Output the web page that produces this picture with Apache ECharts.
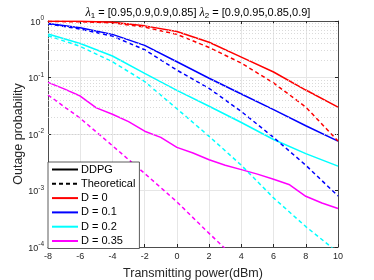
<!DOCTYPE html>
<html><head><meta charset="utf-8">
<script src="https://cdn.jsdelivr.net/npm/echarts@6/dist/echarts.min.js"></script>
<style>html,body{margin:0;padding:0;background:#fff}#c{width:374px;height:280px}</style>
</head><body><div id="c"></div>
<script>
// ---- data ----
var xTicks = [-8, -6, -4, -2, 0, 2, 4, 6, 8, 10];
var power2 = [-8, -6, -4, -2, 0, 2, 4, 6, 8, 10];
var power1 = [-8, -7, -6, -5, -4, -3, -2, -1, 0, 1, 2, 3, 4, 5, 6, 7, 8, 9, 10];
var legendNames = ['DDPG', 'Theoretical', 'D = 0', 'D = 0.1', 'D = 0.2', 'D = 0.35'];
// DDPG (solid)
var ddpgD0   = [0.99, 0.985, 0.95, 0.82, 0.65, 0.42, 0.23, 0.125, 0.06, 0.03];
var ddpgD01  = [0.90, 0.76, 0.58, 0.37, 0.19, 0.097, 0.051, 0.027, 0.014, 0.0075];
var ddpgD02  = [0.59, 0.40, 0.24, 0.118, 0.059, 0.031, 0.016, 0.0080, 0.0045, 0.0027];
var ddpgD035 = [0.082, 0.063, 0.047, 0.029, 0.0224, 0.0166, 0.0112, 0.0087, 0.0058, 0.0046,
                0.0035, 0.0028, 0.00234, 0.00195, 0.00158, 0.00126, 0.00079, 0.0006, 0.00048];
// Theoretical (dashed)
var theoD0   = [0.98, 0.97, 0.93, 0.78, 0.58, 0.34, 0.18, 0.08, 0.03, 0.0075];
var theoD01  = [0.89, 0.72, 0.54, 0.31, 0.135, 0.064, 0.025, 0.0087, 0.0028, 0.0008];
var theoD02  = [0.55, 0.355, 0.19, 0.085, 0.028, 0.0091, 0.0028, 0.00074, 0.00023, 0.00008];
var theoD035 = [0.049, 0.019, 0.0062, 0.002, 0.00063, 0.000174, 0.00005, 0.000013, 0.000003, 0.0000007];
var minorMultipliers = [2, 3, 4, 5, 6, 7, 8, 9];
var decades = [1e-4, 1e-3, 1e-2, 1e-1];

function pairs(xs, ys) { return xs.map(function (x, i) { return [x, ys[i]]; }); }

var colors = { d0: '#ff0000', d01: '#0000ff', d02: '#00ffff', d035: '#ff00ff' };
var LW = 1.5;
var dash = [4, 3];

var minorLines = [];
decades.forEach(function (d) { minorMultipliers.forEach(function (m) { minorLines.push({ yAxis: d * m }); }); });

function lineSeries(name, data, color, dashed, z) {
  return {
    name: name, type: 'line', data: data, symbol: 'none', showSymbol: false,
    xAxisIndex: 0, yAxisIndex: 0, z: z || 3, clip: true,
    lineStyle: { color: color, width: LW, type: dashed ? dash : 'solid' },
    itemStyle: { color: color }, emphasis: { disabled: true }
  };
}

var axisColor = '#262626';
var supRich = {
  b: { fontSize: 9, color: axisColor, fontFamily: 'Liberation Sans', lineHeight: 12, verticalAlign: 'bottom' },
  s: { fontSize: 6.5, color: axisColor, fontFamily: 'Liberation Sans', lineHeight: 12, verticalAlign: 'top' }
};

var option = {
  animation: false,
  backgroundColor: '#fff',
  title: {
    text: '{i|λ}{s|1} = [0.95,0.9,0.9,0.85] {i|λ}{s|2} = [0.9,0.95,0.85,0.9]',
    left: 193, top: 1, textAlign: 'center',
    textStyle: {
      fontSize: 11, fontWeight: 'normal', color: '#000', fontFamily: 'Liberation Sans',
      rich: {
        i: { fontSize: 12, fontStyle: 'italic', fontFamily: 'Liberation Serif', color: '#000' },
        s: { fontSize: 8, color: '#000', fontFamily: 'Liberation Sans', padding: [6, 0, 0, 0] }
      }
    }
  },
  grid: { left: 48, right: 36, top: 21, bottom: 33, containLabel: false, outerBoundsMode: 'none' },
  legend: {
    data: legendNames, orient: 'vertical', left: 48, top: 162,
    itemWidth: 26, itemHeight: 10, itemGap: 3.3,
    padding: [2, 4, 2, 3],
    backgroundColor: '#fff', borderColor: '#333', borderWidth: 0.8, borderRadius: 0,
    itemStyle: { color: 'rgba(0,0,0,0)', borderColor: 'rgba(0,0,0,0)', borderWidth: 0, opacity: 0 },
    textStyle: { fontSize: 11, color: '#000', fontFamily: 'Liberation Sans', padding: [0, 0, 0, -2] },
    selectedMode: false, z: 10
  },
  xAxis: [{
    type: 'value', min: -8, max: 10, interval: 2,
    name: 'Transmitting power(dBm)', nameLocation: 'middle', nameGap: 20, nameMoveOverlap: false,
    nameTextStyle: { fontSize: 12.5, color: axisColor, fontFamily: 'Liberation Sans' },
    axisLine: { show: true, onZero: false, lineStyle: { color: axisColor, width: 0.8 } },
    axisTick: { show: true, inside: true, length: 3, lineStyle: { color: axisColor } },
    axisLabel: { fontSize: 9, color: axisColor, fontFamily: 'Liberation Sans', margin: 5,
      formatter: function (v) { return xTicks.indexOf(v) >= 0 ? String(v) : ''; } },
    splitLine: { show: true, lineStyle: { color: '#e6e6e6', width: 1 } }
  }, {
    type: 'value', min: -8, max: 10, interval: 2, position: 'top',
    axisLine: { show: true, onZero: false, lineStyle: { color: axisColor, width: 0.8 } },
    axisTick: { show: true, inside: true, length: 3, lineStyle: { color: axisColor } },
    axisLabel: { show: false }, splitLine: { show: false }
  }],
  yAxis: [{
    type: 'log', logBase: 10, min: 1e-4, max: 1,
    name: 'Outage probability', nameLocation: 'middle', nameGap: 23, nameMoveOverlap: false,
    nameTextStyle: { fontSize: 12.5, color: axisColor, fontFamily: 'Liberation Sans' },
    axisLine: { show: true, onZero: false, lineStyle: { color: axisColor, width: 0.8 } },
    axisTick: { show: true, inside: true, length: 3, lineStyle: { color: axisColor } },
    axisLabel: {
      margin: 4, color: axisColor,
      formatter: function (v) { var e = Math.round(Math.log10(v)); return '{b|10}{s|' + e + '}'; },
      rich: supRich
    },
    splitLine: { show: true, lineStyle: { color: '#e6e6e6', width: 1 } },
    minorTick: { show: false }
  }, {
    type: 'log', logBase: 10, min: 1e-4, max: 1, position: 'right',
    axisLine: { show: true, onZero: false, lineStyle: { color: axisColor, width: 0.8 } },
    axisTick: { show: true, inside: true, length: 3, lineStyle: { color: axisColor } },
    axisLabel: { show: false }, splitLine: { show: false }
  }],
  series: [
    {
      name: 'grid-minor', type: 'line', data: [], xAxisIndex: 0, yAxisIndex: 0, silent: true, z: 1,
      markLine: { silent: true, symbol: 'none', label: { show: false }, animation: false,
        lineStyle: { color: '#d0d0d0', type: [1, 2], width: 0.8 }, data: minorLines }
    },
    lineSeries('DDPG', [], '#000', false),
    lineSeries('Theoretical', [], '#000', true),
    lineSeries('D = 0', pairs(power2, ddpgD0), colors.d0, false),
    lineSeries('D = 0.1', pairs(power2, ddpgD01), colors.d01, false),
    lineSeries('D = 0.2', pairs(power2, ddpgD02), colors.d02, false),
    lineSeries('D = 0.35', pairs(power1, ddpgD035), colors.d035, false),
    lineSeries('D = 0 theo', pairs(power2, theoD0), colors.d0, true),
    lineSeries('D = 0.1 theo', pairs(power2, theoD01), colors.d01, true),
    lineSeries('D = 0.2 theo', pairs(power2, theoD02), colors.d02, true),
    lineSeries('D = 0.35 theo', pairs(power2, theoD035), colors.d035, true)
  ]
};
var chart = echarts.init(document.getElementById('c'), null, { renderer: 'canvas' });
chart.setOption(option);
</script></body></html>
